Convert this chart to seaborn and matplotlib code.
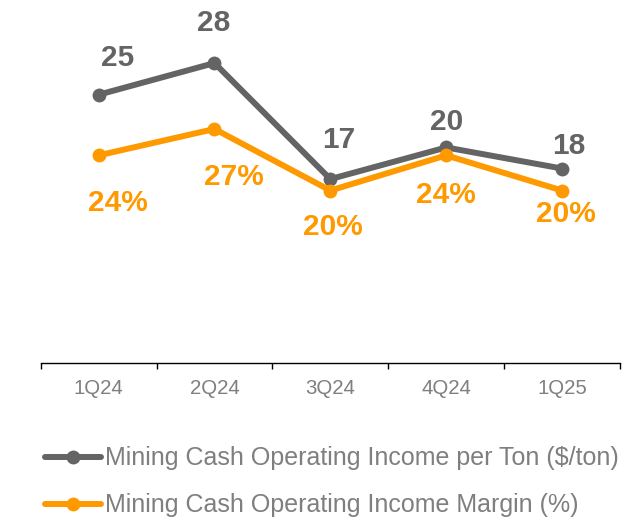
import matplotlib
matplotlib.use("Agg")
import matplotlib.pyplot as plt
import seaborn as sns
import pandas as pd
from matplotlib.lines import Line2D

# data
quarters = ['1Q24', '2Q24', '3Q24', '4Q24', '1Q25']
income_per_ton = [25, 28, 17, 20, 18]
income_margin = [24, 27, 20, 24, 20]

per_ton_name = 'Mining Cash Operating Income per Ton ($/ton)'
margin_name = 'Mining Cash Operating Income Margin (%)'

GRAY = '#646464'
ORANGE = '#FF9900'
TEXT_GRAY = '#7F7F7F'

# manual label nudges (pixels), like the hand-placed labels of the original
gray_offsets = [(19, 37), (-1, 40), (8, 39), (0, 25), (7, 23)]
orange_offsets = [(19, -48), (19, -48), (3, -36), (0, -40), (4, -23)]

df = pd.DataFrame({'quarter': quarters, 'per_ton': income_per_ton, 'margin': income_margin})

sns.set_style('white')
plt.rcParams['font.family'] = ['Liberation Sans', 'DejaVu Sans']

fig = plt.figure(figsize=(6.26, 5.2), dpi=100)
ax = fig.add_axes([0.065, 0.301, 0.9254, 0.6605])
ax2 = ax.twinx()

sns.lineplot(data=df, x='quarter', y='per_ton', ax=ax, color=GRAY, linewidth=4.3,
             marker='o', markersize=10, markeredgewidth=0, sort=False)
sns.lineplot(data=df, x='quarter', y='margin', ax=ax2, color=ORANGE, linewidth=4.3,
             marker='o', markersize=10, markeredgewidth=0, sort=False)

ax.set_ylim(-0.48, 32.08)
ax2.set_ylim(0.32, 39.4)
ax.set_xlim(-0.5, len(quarters) - 0.5)

for i, v in enumerate(income_per_ton):
    ax.annotate(str(v), (i, v), xytext=gray_offsets[i], textcoords='offset pixels',
                ha='center', va='center', fontsize=21.5, fontweight='bold', color=GRAY)
for i, v in enumerate(income_margin):
    ax2.annotate(f'{v}%', (i, v), xytext=orange_offsets[i], textcoords='offset pixels',
                 ha='center', va='center', fontsize=21.5, fontweight='bold', color=ORANGE)

# axes cosmetics
for a in (ax, ax2):
    for side in ('top', 'left', 'right'):
        a.spines[side].set_visible(False)
    a.set_yticks([])
    a.set_ylabel('')
ax2.spines['bottom'].set_visible(False)
ax.spines['bottom'].set_color('#000000')
ax.spines['bottom'].set_linewidth(1.0)
ax.set_xlabel('')
ax.set_xticks(range(len(quarters)))
ax.set_xticklabels(quarters, fontsize=14.7, color=TEXT_GRAY)
ax.set_xticks([i - 0.5 for i in range(len(quarters) + 1)], minor=True)
ax.tick_params(axis='x', which='major', length=0, pad=11.5)
ax.tick_params(axis='x', which='minor', length=4, width=1.0, color='#000000', direction='out', bottom=True)

handles = [
    Line2D([0], [0], color=GRAY, linewidth=4.3, marker='o', markersize=10, markeredgewidth=0),
    Line2D([0], [0], color=ORANGE, linewidth=4.3, marker='o', markersize=10, markeredgewidth=0),
]
fig.legend(handles, [per_ton_name, margin_name], loc='upper left', bbox_to_anchor=(0.072, 0.1415),
           frameon=False, fontsize=18, labelcolor=TEXT_GRAY, handlelength=2.24,
           handletextpad=0.16, labelspacing=0.92, borderaxespad=0, borderpad=0)

fig.savefig('out.png', dpi=100)
